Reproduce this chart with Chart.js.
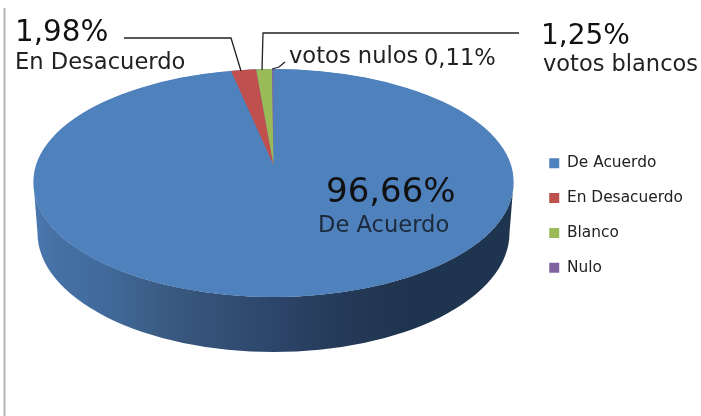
<!DOCTYPE html>
<html>
<head>
<meta charset="utf-8">
<style>html,body{margin:0;padding:0;background:#fff}canvas{display:block}</style>
<script src="https://cdn.jsdelivr.net/npm/chart.js@4"></script>
</head>
<body>
<canvas id="c" width="701" height="416"></canvas>
<script>
const categories = ['De Acuerdo', 'En Desacuerdo', 'Blanco', 'Nulo'];
const values = [96.66, 1.98, 1.25, 0.11];
const colors = ['#4f81bd', '#c0504d', '#9bbb59', '#8064a2'];
const FONT = '"DejaVu Sans"';

const face = {cx: 273.5, cyTop: 181, ryTop: 112, cyBottom: 183, ryBottom: 114, rx: 240};
const wedge = {cx: 273.5, cy: 165, rx: 212, ry: 100};
const base = {cx: 273.5, cy: 233, rx: 236, ry: 119};

const annotations = [
  {t: '1,98%', x: 15, y: 41, s: 29.4, c: '#111'},
  {t: 'En Desacuerdo', x: 15, y: 69, s: 22.6, c: '#222'},
  {t: 'votos nulos', x: 289, y: 63, s: 22.6, c: '#222'},
  {t: '0,11%', x: 424, y: 65, s: 22.6, c: '#222'},
  {t: '1,25%', x: 541, y: 44, s: 28, c: '#111'},
  {t: 'votos blancos', x: 543, y: 70.5, s: 22.5, c: '#222'},
  {t: '96,66%', x: 326, y: 202, s: 34, c: '#111'},
  {t: 'De Acuerdo', x: 318, y: 232, s: 22.6, c: '#1c2a3c'}
];
const leaders = [
  [[124, 38], [231, 38], [241, 71]],
  [[262, 70], [263, 33], [519, 33]],
  [[272, 69], [279, 67], [285, 62]]
];

function facePath(ctx) {
  ctx.beginPath();
  ctx.ellipse(face.cx, face.cyTop, face.rx, face.ryTop, 0, Math.PI, 0, false);
  ctx.lineTo(face.cx + face.rx, face.cyBottom);
  ctx.ellipse(face.cx, face.cyBottom, face.rx, face.ryBottom, 0, 0, Math.PI, false);
  ctx.closePath();
}

const pie3d = {
  id: 'pie3d',
  beforeDatasetsDraw(chart) {
    const ctx = chart.ctx;
    const meta = chart.getDatasetMeta(0);
    const R = meta.data[0].outerRadius;

    const g = ctx.createLinearGradient(face.cx - face.rx, 0, face.cx + face.rx, 0);
    g.addColorStop(0, '#4a78b0');
    g.addColorStop(0.04, '#4671a6');
    g.addColorStop(0.14, '#416b9c');
    g.addColorStop(0.29, '#39597f');
    g.addColorStop(0.50, '#2d456a');
    g.addColorStop(0.64, '#243a58');
    g.addColorStop(0.78, '#1f344e');
    g.addColorStop(1, '#1f344e');
    ctx.save();
    ctx.beginPath();
    ctx.moveTo(face.cx - face.rx, face.cyBottom);
    ctx.lineTo(base.cx - base.rx, base.cy);
    ctx.ellipse(base.cx, base.cy, base.rx, base.ry, 0, Math.PI, 0, true);
    ctx.lineTo(face.cx + face.rx, face.cyBottom);
    ctx.ellipse(face.cx, face.cyBottom, face.rx, face.ryBottom, 0, 0, Math.PI, false);
    ctx.closePath();
    ctx.fillStyle = g;
    ctx.fill();

    facePath(ctx);
    ctx.fillStyle = colors[0];
    ctx.fill();
    ctx.restore();

    meta.data.forEach((arc, i) => {
      const t = i === 0
        ? {cx: face.cx, cy: face.cyBottom, rx: face.rx, ry: face.ryBottom}
        : wedge;
      ctx.save();
      facePath(ctx);
      ctx.clip();
      ctx.translate(t.cx, t.cy);
      ctx.scale(t.rx / R, t.ry / R);
      ctx.translate(-arc.x, -arc.y);
      arc.draw(ctx);
      ctx.restore();
    });
    return false;
  },
  afterDraw(chart) {
    const ctx = chart.ctx;
    ctx.save();
    ctx.strokeStyle = '#b4b4b4';
    ctx.lineWidth = 2;
    ctx.beginPath();
    ctx.moveTo(4.5, 8);
    ctx.lineTo(4.5, 416);
    ctx.stroke();

    ctx.strokeStyle = '#222';
    ctx.lineWidth = 1.3;
    leaders.forEach(pts => {
      ctx.beginPath();
      pts.forEach((p, i) => i ? ctx.lineTo(p[0], p[1]) : ctx.moveTo(p[0], p[1]));
      ctx.stroke();
    });

    ctx.textBaseline = 'alphabetic';
    ctx.textAlign = 'left';
    annotations.forEach(a => {
      ctx.font = a.s + 'px ' + FONT;
      ctx.fillStyle = a.c;
      ctx.fillText(a.t, a.x, a.y);
    });
    ctx.restore();
  }
};

new Chart(document.getElementById('c'), {
  type: 'pie',
  data: {
    labels: categories,
    datasets: [{data: values, backgroundColor: colors, borderWidth: 0}]
  },
  options: {
    responsive: false,
    animation: false,
    events: [],
    layout: {padding: {top: 15, right: 8}},
    plugins: {
      tooltip: {enabled: false},
      title: {display: false},
      legend: {
        display: true,
        position: 'right',
        labels: {
          boxWidth: 10,
          boxHeight: 10,
          padding: 19.5,
          color: '#222',
          font: {family: FONT, size: 15.4}
        }
      }
    }
  },
  plugins: [pie3d]
});
</script>
</body>
</html>
